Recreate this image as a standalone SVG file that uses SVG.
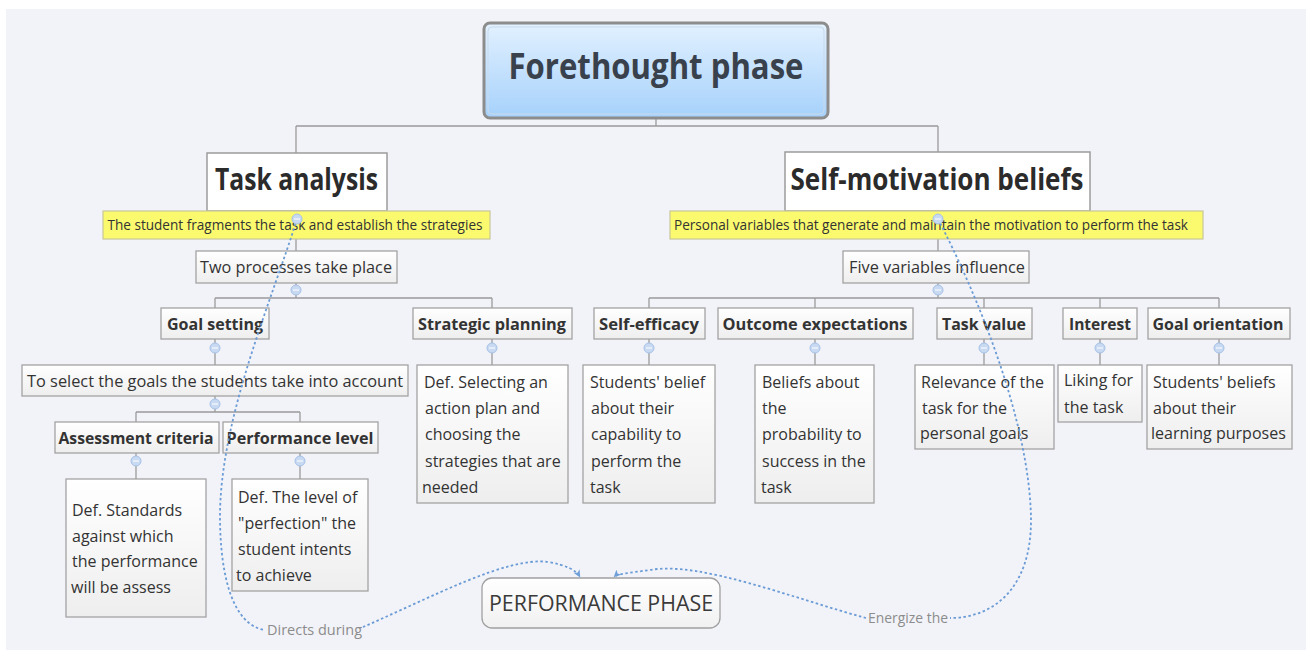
<svg xmlns="http://www.w3.org/2000/svg" width="1306" height="650" viewBox="0 0 1306 650">
<defs>
<linearGradient id="gRoot" x1="0" y1="0" x2="0" y2="1">
<stop offset="0" stop-color="#e2f1ff"/>
<stop offset="1" stop-color="#a6d1fb"/>
</linearGradient>
<linearGradient id="gBox" x1="0" y1="0" x2="0" y2="1">
<stop offset="0" stop-color="#ffffff"/>
<stop offset="1" stop-color="#eeeeee"/>
</linearGradient>
<linearGradient id="gPerf" x1="0" y1="0" x2="0" y2="1">
<stop offset="0" stop-color="#ffffff"/>
<stop offset="1" stop-color="#f1f1f1"/>
</linearGradient>
<marker id="arr" viewBox="0 0 8 8" refX="7" refY="4" markerWidth="8" markerHeight="8" markerUnits="userSpaceOnUse" orient="auto">
<path d="M0,0.5 L7.5,4 L0,7.5 L2,4 z" fill="#6f9fd8"/>
</marker>
<style>
.t{font-family:"Open Sans","Noto Sans","DejaVu Sans",sans-serif;fill:#333333}
.b{font-weight:bold}
.box{fill:url(#gBox);stroke:#a3a3a3;stroke-width:1.3}
.head{fill:#ffffff;stroke:#9c9c9c;stroke-width:1.5}
.yel{fill:#fbfa6e;stroke:#c9c79a;stroke-width:1.2}
.ln{fill:none;stroke:#9b9b9b;stroke-width:1.3}
.dash{fill:none;stroke:#6a9bd6;stroke-width:1.8;stroke-dasharray:2.5 2.5}
.dot{fill:#c8daf2;stroke:#a6c1e6;stroke-width:1}
.lbl{font-family:"Open Sans","Noto Sans",sans-serif;font-size:14px;fill:#8c8c8c}
.d{font-size:16px}
</style>
</defs>
<rect x="0" y="0" width="1306" height="650" fill="#ffffff"/>
<rect x="6" y="9" width="1300" height="641" fill="#f2f3f8"/>

<g id="connectors">
<path class="ln" d="M656,118 V126 M296,126 H938 M296,126 V153 M938,126 V152"/>
<path class="ln" d="M296,239 V251 M296,283 V298 M215,298 H492 M215,298 V308 M492,298 V308"/>
<path class="ln" d="M215,339 V365 M215,396 V412 M136,412 H300 M136,412 V422 M300,412 V422"/>
<path class="ln" d="M136,453 V479 M300,453 V479 M492,339 V365"/>
<path class="ln" d="M938,239 V251 M938,283 V298 M649,298 H1219 M649,298 V308 M815,298 V308 M984,298 V308 M1100,298 V308 M1219,298 V308"/>
<path class="ln" d="M649,339 V365 M815,339 V365 M984,339 V365 M1100,339 V365 M1219,339 V365"/>
</g>

<g id="root">
<rect x="484" y="23" width="344" height="95" rx="6" fill="url(#gRoot)" stroke="#8c8c8c" stroke-width="3"/>
<rect x="488" y="27" width="336" height="87" rx="4" fill="none" stroke="#c9d9ea" stroke-width="1"/>
<text class="t b" x="656" y="79" font-size="36" text-anchor="middle" textLength="295" lengthAdjust="spacingAndGlyphs" style="fill:#39414c">Forethought phase</text>
</g>

<g id="task-analysis">
<rect class="head" x="207" y="153" width="180" height="58"/>
<text class="t b" x="296.5" y="190" font-size="30" text-anchor="middle" textLength="163" lengthAdjust="spacingAndGlyphs" style="fill:#2b2b2b">Task analysis</text>
<rect class="yel" x="103" y="211" width="387" height="28"/>
<text class="t" x="295" y="230" font-size="14" text-anchor="middle" textLength="375" lengthAdjust="spacingAndGlyphs">The student fragments the task and establish the strategies</text>
</g>

<g id="two-processes">
<rect class="box" x="196" y="251" width="201" height="32"/>
<text class="t" x="296" y="273" font-size="17" text-anchor="middle" textLength="192" lengthAdjust="spacingAndGlyphs">Two processes take place</text>
</g>

<g id="goal-setting">
<rect class="box" x="161" y="308" width="108" height="31"/>
<text class="t b" x="215" y="330" font-size="16" text-anchor="middle" textLength="96" lengthAdjust="spacingAndGlyphs">Goal setting</text>
</g>

<g id="to-select">
<rect class="box" x="22" y="365" width="386" height="31"/>
<text class="t" x="215" y="387" font-size="16" text-anchor="middle" textLength="376" lengthAdjust="spacingAndGlyphs">To select the goals the students take into account</text>
</g>

<g id="assessment-criteria">
<rect class="box" x="55" y="422" width="164" height="31"/>
<text class="t b" x="136" y="444" font-size="16" text-anchor="middle" textLength="155" lengthAdjust="spacingAndGlyphs">Assessment criteria</text>
</g>

<g id="performance-level">
<rect class="box" x="223" y="422" width="155" height="31"/>
<text class="t b" x="300" y="444" font-size="16" text-anchor="middle" textLength="147" lengthAdjust="spacingAndGlyphs">Performance level</text>
</g>

<g id="assessment-def">
<rect class="box" x="66" y="479" width="140" height="138"/>
<text class="t d"><tspan x="72" y="516">Def. Standards</tspan><tspan x="72" y="542">against which</tspan><tspan x="72" y="567">the performance</tspan><tspan x="71" y="593">will be assess</tspan></text>
</g>

<g id="performance-def">
<rect class="box" x="232" y="479" width="136" height="112"/>
<text class="t d"><tspan x="238" y="503">Def. The level of</tspan><tspan x="238" y="529">"perfection" the</tspan><tspan x="238" y="555">student intents</tspan><tspan x="236" y="581">to achieve</tspan></text>
</g>

<g id="strategic-planning">
<rect class="box" x="413" y="308" width="159" height="31"/>
<text class="t b" x="492" y="330" font-size="16" text-anchor="middle" textLength="148" lengthAdjust="spacingAndGlyphs">Strategic planning</text>
</g>

<g id="strategic-def">
<rect class="box" x="417" y="365" width="151" height="138"/>
<text class="t d"><tspan x="424" y="388">Def. Selecting an</tspan><tspan x="425" y="414">action plan and</tspan><tspan x="425" y="440">choosing the</tspan><tspan x="425" y="467">strategies that are</tspan><tspan x="422" y="493">needed</tspan></text>
</g>

<g id="self-motivation">
<rect class="head" x="785" y="152" width="305" height="59"/>
<text class="t b" x="937" y="190" font-size="30" text-anchor="middle" textLength="293" lengthAdjust="spacingAndGlyphs" style="fill:#2b2b2b">Self-motivation beliefs</text>
<rect class="yel" x="670" y="211" width="533" height="28"/>
<text class="t" x="931" y="230" font-size="14" text-anchor="middle" textLength="514" lengthAdjust="spacingAndGlyphs">Personal variables that generate and maintain the motivation to perform the task</text>
</g>

<g id="five-variables">
<rect class="box" x="843" y="251" width="186" height="32"/>
<text class="t" x="937" y="273" font-size="17" text-anchor="middle" textLength="176" lengthAdjust="spacingAndGlyphs">Five variables influence</text>
</g>

<g id="self-efficacy">
<rect class="box" x="594" y="308" width="111" height="31"/>
<text class="t b" x="649" y="330" font-size="16" text-anchor="middle" textLength="100" lengthAdjust="spacingAndGlyphs">Self-efficacy</text>
<rect class="box" x="583" y="365" width="132" height="138"/>
<text class="t d"><tspan x="590" y="388">Students' belief</tspan><tspan x="591" y="414">about their</tspan><tspan x="591" y="440">capability to</tspan><tspan x="591" y="467">perform the</tspan><tspan x="590" y="493">task</tspan></text>
</g>

<g id="outcome-expectations">
<rect class="box" x="718" y="308" width="195" height="31"/>
<text class="t b" x="815" y="330" font-size="16" text-anchor="middle" textLength="185" lengthAdjust="spacingAndGlyphs">Outcome expectations</text>
<rect class="box" x="755" y="365" width="119" height="138"/>
<text class="t d"><tspan x="762" y="388">Beliefs about</tspan><tspan x="762" y="414">the</tspan><tspan x="762" y="440">probability to</tspan><tspan x="762" y="467">success in the</tspan><tspan x="761" y="493">task</tspan></text>
</g>

<g id="task-value">
<rect class="box" x="915" y="365" width="139" height="84"/>
<rect class="box" x="937" y="308" width="95" height="31"/>
<text class="t b" x="984" y="330" font-size="16" text-anchor="middle" textLength="84" lengthAdjust="spacingAndGlyphs">Task value</text>
<text class="t d"><tspan x="921" y="388">Relevance of the</tspan><tspan x="922" y="414">task for the</tspan><tspan x="920" y="439">personal goals</tspan></text>
</g>

<g id="interest">
<rect class="box" x="1063" y="308" width="74" height="31"/>
<text class="t b" x="1100" y="330" font-size="16" text-anchor="middle" textLength="62" lengthAdjust="spacingAndGlyphs">Interest</text>
<rect class="box" x="1058" y="365" width="84" height="57"/>
<text class="t d"><tspan x="1064" y="386">Liking for</tspan><tspan x="1064" y="413">the task</tspan></text>
</g>

<g id="goal-orientation">
<rect class="box" x="1148" y="308" width="142" height="31"/>
<text class="t b" x="1218" y="330" font-size="16" text-anchor="middle" textLength="131" lengthAdjust="spacingAndGlyphs">Goal orientation</text>
<rect class="box" x="1147" y="365" width="145" height="84"/>
<text class="t d"><tspan x="1153" y="388">Students' beliefs</tspan><tspan x="1153" y="414">about their</tspan><tspan x="1151" y="439">learning purposes</tspan></text>
</g>

<g id="performance-phase">
<rect x="482" y="578" width="238" height="50" rx="10" fill="url(#gPerf)" stroke="#a0a0a0" stroke-width="1.3"/>
<text class="t" x="601" y="611" font-size="22" text-anchor="middle" textLength="224" lengthAdjust="spacingAndGlyphs" style="fill:#3a3a3a">PERFORMANCE PHASE</text>
</g>

<g id="relations">
<path class="dash" d="M297,219 C272,300 219,420 220,520 C221,598 242,627 265,630"/>
<path class="dash" d="M363,627 C430,598 508,556 548,562 C566,565 576,570 580,577" marker-end="url(#arr)"/>
<text class="lbl" x="267" y="635" textLength="95" lengthAdjust="spacingAndGlyphs">Directs during</text>
<path class="dash" d="M938,219 C975,290 1030,420 1031,520 C1031,590 992,618 950,618"/>
<path class="dash" d="M866,618 C792,598 700,561 650,570 C628,573 617,574 614,577" marker-end="url(#arr)"/>
<text class="lbl" x="868" y="623" textLength="80" lengthAdjust="spacingAndGlyphs">Energize the</text>
</g>

<g id="handles">
<circle class="dot" cx="297" cy="219" r="5"/>
<circle class="dot" cx="938" cy="219" r="5"/>
<circle class="dot" cx="296" cy="290" r="5"/>
<circle class="dot" cx="938" cy="290" r="5"/>
<circle class="dot" cx="215" cy="348" r="5"/>
<circle class="dot" cx="492" cy="348" r="5"/>
<circle class="dot" cx="215" cy="404" r="5"/>
<circle class="dot" cx="136" cy="461" r="5"/>
<circle class="dot" cx="300" cy="461" r="5"/>
<circle class="dot" cx="649" cy="348" r="5"/>
<circle class="dot" cx="815" cy="348" r="5"/>
<circle class="dot" cx="984" cy="348" r="5"/>
<circle class="dot" cx="1100" cy="348" r="5"/>
<circle class="dot" cx="1219" cy="348" r="5"/>
<path d="M294,219 h6 M935,219 h6 M293,290 h6 M935,290 h6 M212,348 h6 M489,348 h6 M212,404 h6 M133,461 h6 M297,461 h6 M646,348 h6 M812,348 h6 M981,348 h6 M1097,348 h6 M1216,348 h6" stroke="#ffffff" stroke-width="1" fill="none"/>
</g>
</svg>
